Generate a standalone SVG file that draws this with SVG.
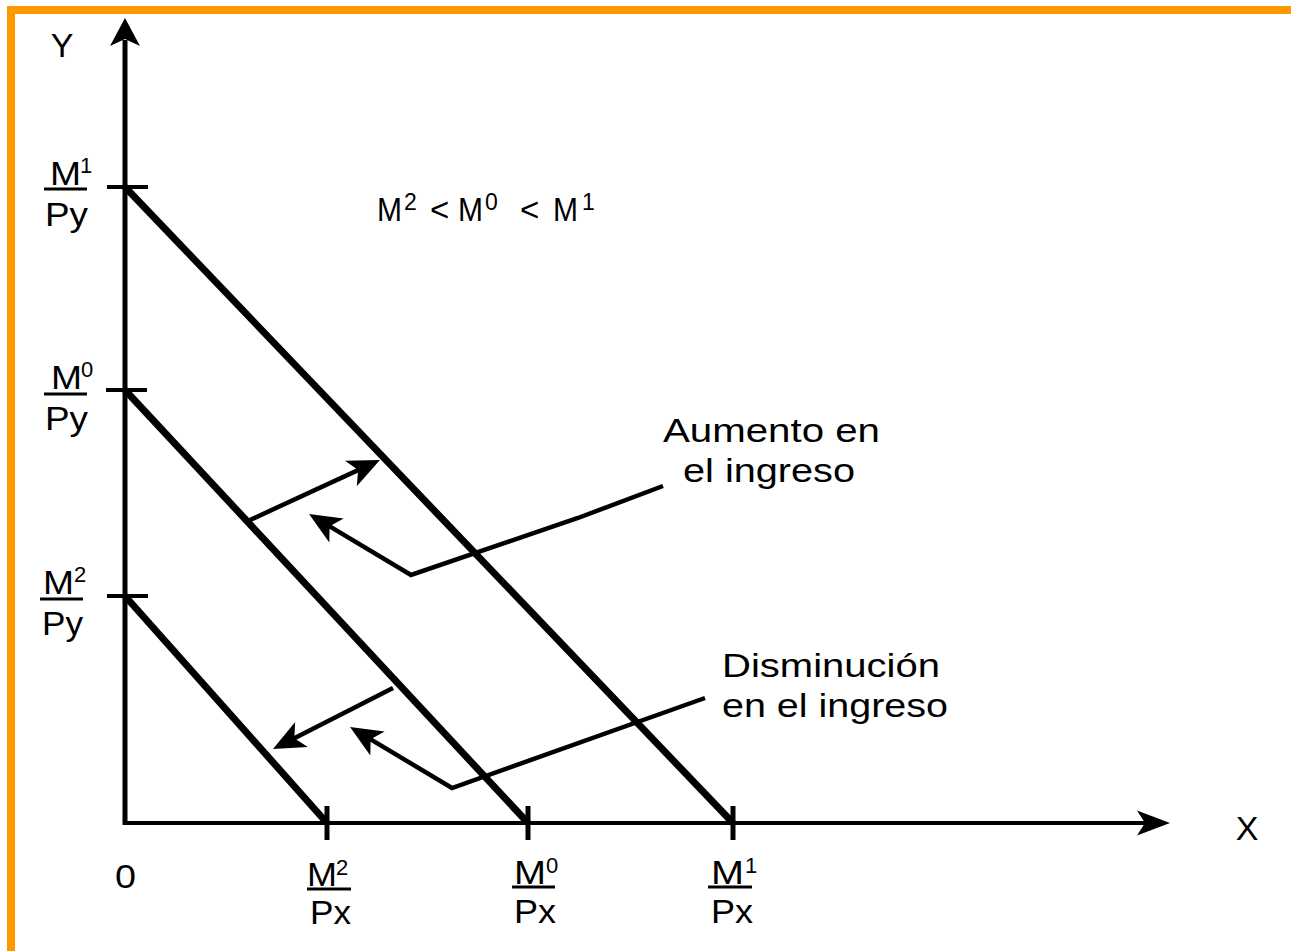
<svg xmlns="http://www.w3.org/2000/svg" width="1291" height="951" viewBox="0 0 1291 951">
<style>
text{font-family:"Liberation Sans",Arial,sans-serif;fill:#000}
.lab{font-size:34px}
.sup{font-size:22px}
.big{font-size:33px}
.ineq{font-size:33px}
.isup{font-size:23px}
.ax{font-size:34px}
.bar{stroke:#000;stroke-width:3}
.budget{stroke:#000;stroke-width:7;fill:none}
.tick{stroke:#000;stroke-width:4}
.conn{stroke:#000;stroke-width:4.5;fill:none}
</style>
<defs>
<marker id="ah" viewBox="-30 -16 42 32" refX="0" refY="0" markerWidth="42" markerHeight="32" markerUnits="userSpaceOnUse" orient="auto" overflow="visible">
<path d="M8,0 L-24,-14 L-16,0 L-24,14 Z" fill="#000"/>
</marker>
</defs>
<rect width="1291" height="951" fill="#fff"/>
<path d="M11,951 L11,10 L1291,10" fill="none" stroke="#FF9900" stroke-width="8"/>

<g id="axes">
<line x1="125" y1="825" x2="125" y2="40" stroke="#000" stroke-width="5"/>
<polygon points="125,18 140,46 125,39 110,46" fill="#000"/>
<line x1="123" y1="823" x2="1150" y2="823" stroke="#000" stroke-width="4"/>
<polygon points="1170,823 1137,810.5 1145,823 1137,835.5" fill="#000"/>
<text class="ax" x="62" y="57" text-anchor="middle">Y</text>
<text class="ax" x="1247" y="840" text-anchor="middle">X</text>
<text class="lab" x="115" y="888" textLength="21" lengthAdjust="spacingAndGlyphs" style="font-size:33px">0</text>
</g>

<g id="ticks">
<line class="tick" x1="107" y1="187" x2="148" y2="187"/>
<line class="tick" x1="106" y1="390" x2="147" y2="390"/>
<line class="tick" x1="107" y1="596" x2="148" y2="596"/>
<line class="tick" x1="327" y1="806" x2="327" y2="840" style="stroke-width:5"/>
<line class="tick" x1="528" y1="806" x2="528" y2="840" style="stroke-width:5"/>
<line class="tick" x1="733" y1="806" x2="733" y2="840" style="stroke-width:5"/>
</g>

<g id="budget-lines">
<line class="budget" x1="125" y1="187" x2="733" y2="823"/>
<line class="budget" x1="125" y1="390" x2="528" y2="823"/>
<line class="budget" x1="125" y1="596" x2="327" y2="823"/>
</g>

<g id="label-M1-Py">
<text class="lab" x="50" y="185" textLength="31" lengthAdjust="spacingAndGlyphs">M</text>
<text class="sup" x="80" y="173">1</text>
<line class="bar" x1="44" y1="189" x2="87" y2="189"/>
<text class="lab" x="45" y="226" textLength="43" lengthAdjust="spacingAndGlyphs">Py</text>
</g>
<g id="label-M0-Py">
<text class="lab" x="51" y="389" textLength="31" lengthAdjust="spacingAndGlyphs">M</text>
<text class="sup" x="81" y="377">0</text>
<line class="bar" x1="44" y1="394" x2="87" y2="394"/>
<text class="lab" x="45" y="430" textLength="43" lengthAdjust="spacingAndGlyphs">Py</text>
</g>
<g id="label-M2-Py">
<text class="lab" x="43" y="594" textLength="31" lengthAdjust="spacingAndGlyphs">M</text>
<text class="sup" x="74" y="582">2</text>
<line class="bar" x1="40" y1="599" x2="83" y2="599"/>
<text class="lab" x="42" y="635" textLength="41" lengthAdjust="spacingAndGlyphs">Py</text>
</g>

<g id="label-M2-Px">
<text class="lab" x="307" y="886" textLength="30" lengthAdjust="spacingAndGlyphs">M</text>
<text class="sup" x="336" y="875">2</text>
<line class="bar" x1="307" y1="889" x2="351" y2="889"/>
<text class="lab" x="310" y="924" textLength="41" lengthAdjust="spacingAndGlyphs">Px</text>
</g>
<g id="label-M0-Px">
<text class="lab" x="514" y="884" textLength="32" lengthAdjust="spacingAndGlyphs">M</text>
<text class="sup" x="546" y="873">0</text>
<line class="bar" x1="512" y1="887" x2="555" y2="887"/>
<text class="lab" x="514" y="923" textLength="42" lengthAdjust="spacingAndGlyphs">Px</text>
</g>
<g id="label-M1-Px">
<text class="lab" x="711" y="884" textLength="33" lengthAdjust="spacingAndGlyphs">M</text>
<text class="sup" x="745" y="873">1</text>
<line class="bar" x1="708" y1="887" x2="752" y2="887"/>
<text class="lab" x="711" y="923" textLength="42" lengthAdjust="spacingAndGlyphs">Px</text>
</g>

<g id="inequality">
<text class="ineq" x="377" y="221" textLength="25" lengthAdjust="spacingAndGlyphs">M</text>
<text class="isup" x="404" y="210">2</text>
<text class="ineq" x="430" y="221">&lt;</text>
<text class="ineq" x="458" y="221" textLength="25" lengthAdjust="spacingAndGlyphs">M</text>
<text class="isup" x="485" y="210">0</text>
<text class="ineq" x="520" y="221">&lt;</text>
<text class="ineq" x="553" y="221" textLength="25" lengthAdjust="spacingAndGlyphs">M</text>
<text class="isup" x="582" y="210">1</text>
</g>

<g id="label-aumento">
<text class="big" x="663" y="442" textLength="217" lengthAdjust="spacingAndGlyphs">Aumento en</text>
<text class="big" x="683" y="482" textLength="172" lengthAdjust="spacingAndGlyphs">el ingreso</text>
</g>
<g id="label-disminucion">
<text class="big" x="722" y="677" textLength="218" lengthAdjust="spacingAndGlyphs">Disminución</text>
<text class="big" x="722" y="717" textLength="226" lengthAdjust="spacingAndGlyphs">en el ingreso</text>
</g>

<g id="connectors">
<line class="conn" x1="250" y1="520" x2="372.7" y2="463.4" marker-end="url(#ah)"/>
<polyline class="conn" points="663,486 578,518 411,575 315.9,518.1" marker-end="url(#ah)"/>
<line class="conn" x1="393" y1="688" x2="280.1" y2="745.4" marker-end="url(#ah)"/>
<polyline class="conn" points="705,698 452,788 356.9,731.1" marker-end="url(#ah)"/>
</g>
</svg>
